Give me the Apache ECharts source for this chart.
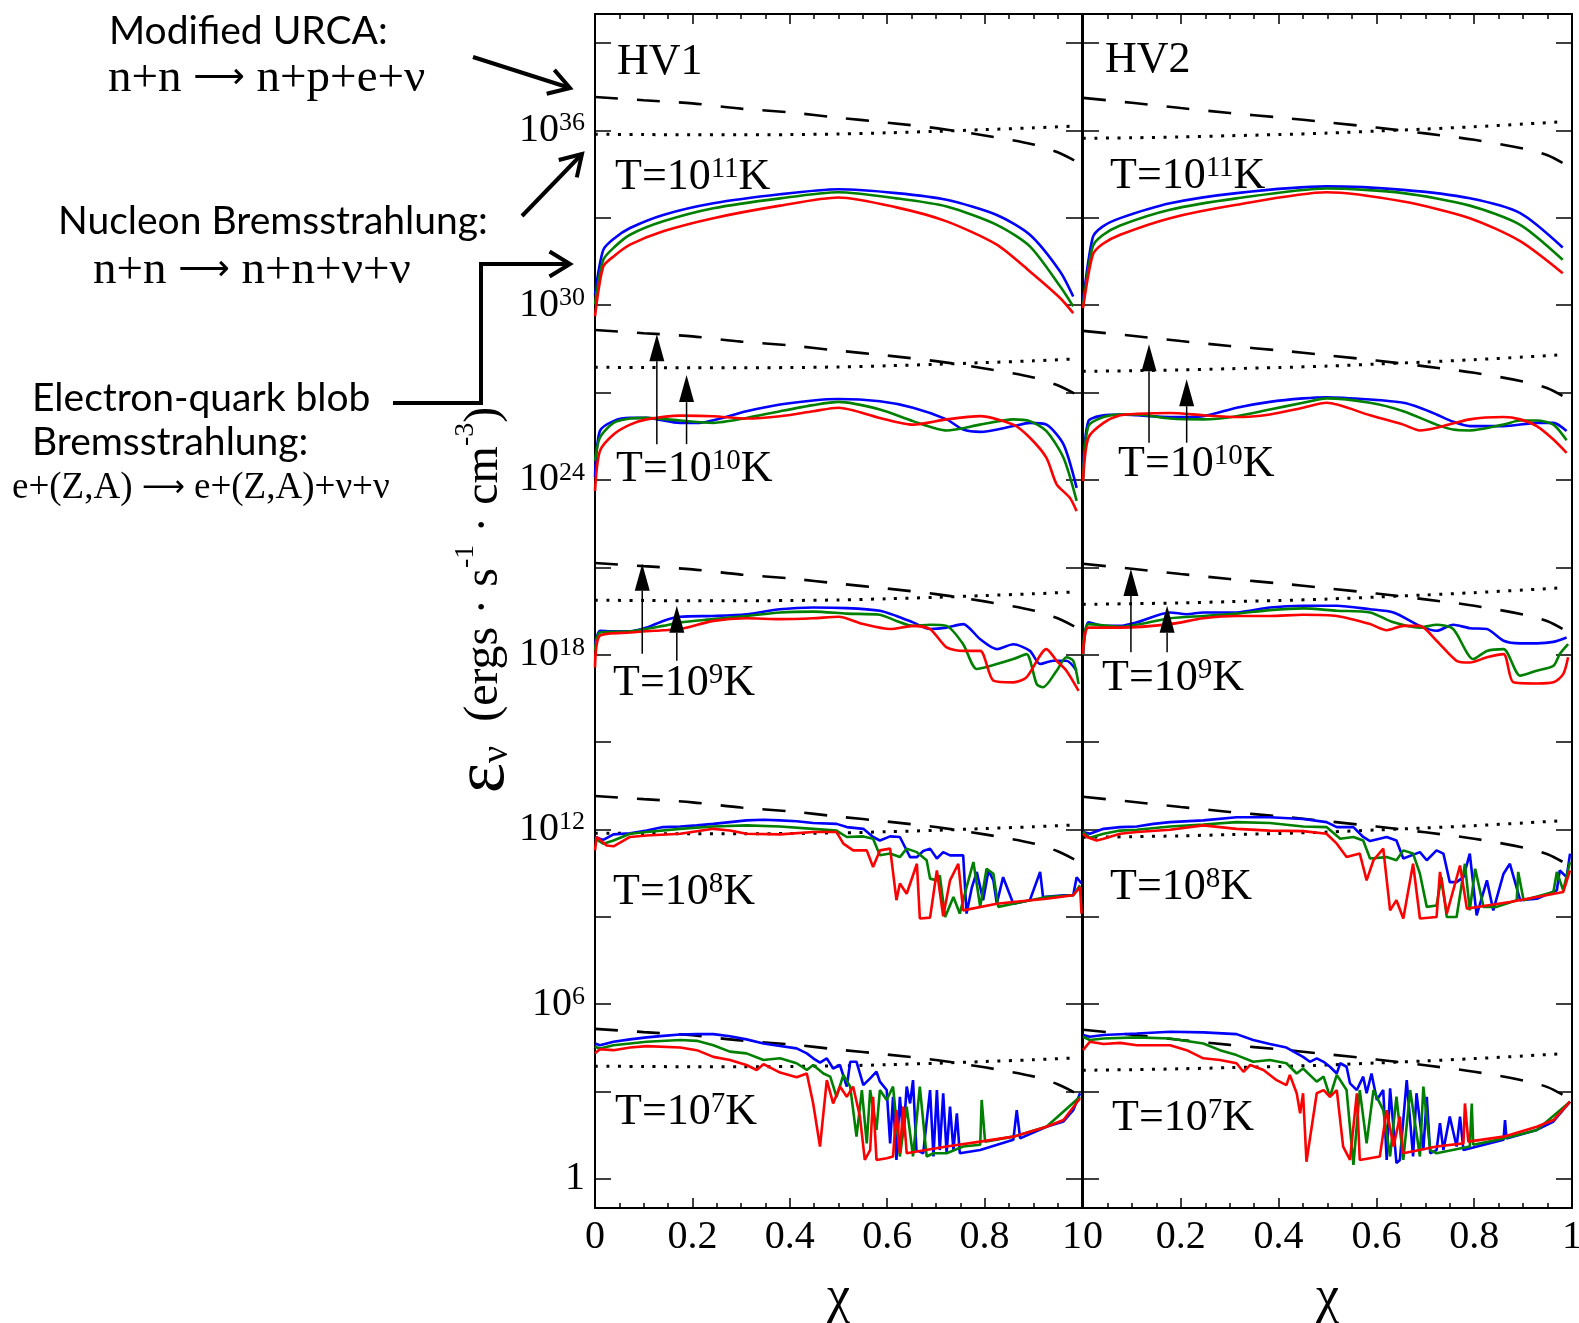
<!DOCTYPE html>
<html><head><meta charset="utf-8">
<script src="https://cdn.jsdelivr.net/npm/echarts@6/dist/echarts.min.js"></script>
<style>html,body{margin:0;padding:0;background:#fff}#c{width:1579px;height:1323px}</style>
</head><body><div id="c"></div><script>
// ---------------- DATA (y values are log10 of emissivity, erg s^-1 cm^-3) ----------------
const tempExps = [11, 10, 9, 8, 7];
const yTickExps = [0, 3, 6, 9, 12, 15, 18, 21, 24, 27, 30, 33, 36, 39];
const yLabelExps = [0, 6, 12, 18, 24, 30, 36];

// Modified URCA (dashed) and nucleon bremsstrahlung (dotted)
const urcaChi = [0, 0.1, 0.2, 0.3, 0.4, 0.5, 0.6, 0.7, 0.8, 0.9, 0.95, 0.99];
const bremChi = [0, 0.1, 0.2, 0.3, 0.4, 0.5, 0.6, 0.7, 0.8, 0.9, 0.98];

const hv1UrcaT11 = [37.15, 37.04, 36.93, 36.75, 36.62, 36.44, 36.27, 36.08, 35.83, 35.52, 35.25, 34.92];
const hv1UrcaT10 = [29.15, 29.04, 28.93, 28.75, 28.62, 28.44, 28.27, 28.08, 27.83, 27.52, 27.25, 26.92];
const hv1UrcaT9  = [21.15, 21.04, 20.93, 20.75, 20.62, 20.44, 20.27, 20.08, 19.83, 19.52, 19.25, 18.92];
const hv1UrcaT8  = [13.15, 13.04, 12.93, 12.75, 12.62, 12.44, 12.27, 12.08, 11.83, 11.52, 11.25, 10.92];
const hv1UrcaT7  = [5.15, 5.04, 4.93, 4.75, 4.62, 4.44, 4.27, 4.08, 3.83, 3.52, 3.25, 2.92];
const hv1BremT11 = [35.87, 35.86, 35.85, 35.85, 35.86, 35.88, 35.92, 35.97, 36.03, 36.09, 36.15];
const hv1BremT10 = [27.87, 27.86, 27.85, 27.85, 27.86, 27.88, 27.92, 27.97, 28.03, 28.09, 28.15];
const hv1BremT9  = [19.87, 19.86, 19.85, 19.85, 19.86, 19.88, 19.92, 19.97, 20.03, 20.09, 20.15];
const hv1BremT8  = [11.87, 11.86, 11.85, 11.85, 11.86, 11.88, 11.92, 11.97, 12.03, 12.09, 12.15];
const hv1BremT7  = [3.87, 3.86, 3.85, 3.85, 3.86, 3.88, 3.92, 3.97, 4.03, 4.09, 4.15];

const hv2UrcaT11 = [37.12, 36.95, 36.77, 36.60, 36.45, 36.28, 36.10, 35.90, 35.68, 35.38, 35.15, 34.80];
const hv2UrcaT10 = [29.12, 28.95, 28.77, 28.60, 28.45, 28.28, 28.10, 27.90, 27.68, 27.38, 27.15, 26.80];
const hv2UrcaT9  = [21.12, 20.95, 20.77, 20.60, 20.45, 20.28, 20.10, 19.90, 19.68, 19.38, 19.15, 18.80];
const hv2UrcaT8  = [13.12, 12.95, 12.77, 12.60, 12.45, 12.28, 12.10, 11.90, 11.68, 11.38, 11.15, 10.80];
const hv2UrcaT7  = [5.12, 4.95, 4.77, 4.60, 4.45, 4.28, 4.10, 3.90, 3.68, 3.38, 3.15, 2.80];
const hv2BremT11 = [35.73, 35.75, 35.78, 35.82, 35.86, 35.91, 35.98, 36.05, 36.13, 36.22, 36.30];
const hv2BremT10 = [27.73, 27.75, 27.78, 27.82, 27.86, 27.91, 27.98, 28.05, 28.13, 28.22, 28.30];
const hv2BremT9  = [19.73, 19.75, 19.78, 19.82, 19.86, 19.91, 19.98, 20.05, 20.13, 20.22, 20.30];
const hv2BremT8  = [11.73, 11.75, 11.78, 11.82, 11.86, 11.91, 11.98, 12.05, 12.13, 12.22, 12.30];
const hv2BremT7  = [3.73, 3.75, 3.78, 3.82, 3.86, 3.91, 3.98, 4.05, 4.13, 4.22, 4.30];

// Electron-quark blob bremsstrahlung: [chi, log10 eps]
const hv1BlueT11 = [[0,30.36],[0.017,31.9],[0.04,32.3],[0.072,32.65],[0.14,33.1],[0.243,33.5],[0.38,33.81],[0.5,33.98],[0.619,33.85],[0.722,33.62],[0.825,33.1],[0.893,32.42],[0.955,31.16],[0.982,30.3]];
const hv1GreenT11 = [[0,30.03],[0.017,31.56],[0.04,32.0],[0.072,32.42],[0.14,32.88],[0.243,33.33],[0.38,33.67],[0.5,33.88],[0.619,33.67],[0.722,33.39],[0.825,32.76],[0.893,32.02],[0.955,30.65],[0.982,29.96]];
const hv1RedT11 = [[0,29.62],[0.017,31.33],[0.04,31.7],[0.072,32.08],[0.14,32.54],[0.243,32.99],[0.38,33.42],[0.5,33.70],[0.619,33.36],[0.722,32.88],[0.825,32.08],[0.893,31.16],[0.955,30.25],[0.982,29.73]];

const hv1BlueT10 = [[0,24.1],[0.010,25.68],[0.038,26.02],[0.072,26.13],[0.106,26.13],[0.175,25.96],[0.21,25.96],[0.311,26.36],[0.380,26.59],[0.448,26.73],[0.5,26.78],[0.585,26.70],[0.653,26.48],[0.722,26.08],[0.756,25.73],[0.791,25.65],[0.859,25.85],[0.893,25.96],[0.927,25.90],[0.962,25.22],[0.989,23.73]];
const hv1GreenT10 = [[0,24.65],[0.010,25.45],[0.038,25.96],[0.072,26.11],[0.106,26.13],[0.175,26.04],[0.243,25.96],[0.311,26.13],[0.380,26.36],[0.448,26.57],[0.5,26.68],[0.585,26.42],[0.653,26.02],[0.722,25.70],[0.791,25.90],[0.859,26.08],[0.893,26.02],[0.927,25.68],[0.962,24.76],[0.989,23.28]];
const hv1RedT10 = [[0,23.62],[0.010,24.99],[0.038,25.56],[0.072,25.90],[0.106,26.08],[0.175,26.21],[0.243,26.19],[0.311,26.11],[0.380,26.19],[0.448,26.36],[0.5,26.48],[0.585,26.13],[0.653,25.90],[0.722,26.08],[0.791,26.19],[0.859,25.90],[0.893,25.45],[0.927,24.76],[0.948,23.85],[0.975,23.39],[0.989,22.93]];

const hv1BlueT9 = [[0,18.36],[0.010,18.82],[0.038,18.80],[0.072,18.80],[0.106,18.93],[0.140,19.16],[0.175,19.30],[0.243,19.33],[0.311,19.39],[0.380,19.56],[0.448,19.62],[0.517,19.60],[0.585,19.51],[0.619,19.33],[0.653,19.11],[0.688,18.88],[0.722,18.93],[0.756,19.05],[0.791,18.53],[0.825,18.19],[0.859,18.36],[0.893,18.13],[0.914,17.68],[0.941,17.79],[0.968,17.79],[0.989,17.45]];
const hv1GreenT9 = [[0,18.13],[0.010,18.76],[0.072,18.80],[0.140,18.99],[0.175,19.11],[0.243,19.22],[0.311,19.33],[0.380,19.45],[0.448,19.48],[0.517,19.41],[0.585,19.37],[0.619,19.16],[0.653,18.99],[0.688,19.03],[0.722,18.99],[0.756,18.36],[0.784,17.51],[0.825,17.68],[0.859,17.85],[0.886,18.02],[0.907,16.99],[0.920,16.88],[0.948,17.45],[0.968,17.91],[0.982,17.79],[0.993,16.99]];
const hv1RedT9 = [[0,17.56],[0.010,18.65],[0.072,18.76],[0.140,18.84],[0.175,18.88],[0.243,19.16],[0.311,19.25],[0.380,19.22],[0.448,19.25],[0.500,19.30],[0.551,19.05],[0.606,18.88],[0.653,18.99],[0.688,18.88],[0.722,18.25],[0.756,18.13],[0.791,18.13],[0.818,17.11],[0.859,17.05],[0.886,17.22],[0.927,18.19],[0.948,17.79],[0.968,17.45],[0.993,16.76]];

const hv1BlueT8 = [[0,11.74],[0.017,11.64],[0.038,11.83],[0.072,11.87],[0.106,11.96],[0.140,12.08],[0.175,12.10],[0.209,12.14],[0.243,12.19],[0.277,12.25],[0.311,12.31],[0.346,12.33],[0.380,12.31],[0.414,12.28],[0.448,12.22],[0.496,12.19],[0.517,12.08],[0.551,12.02],[0.571,11.74],[0.585,11.62],[0.606,11.76],[0.626,11.74],[0.647,11.05],[0.661,11.05],[0.674,11.26],[0.688,11.34],[0.702,11.00],[0.715,11.22],[0.729,11.11],[0.756,11.11],[0.763,9.11],[0.774,10.02],[0.784,10.54],[0.797,9.57],[0.808,10.59],[0.818,10.25],[0.825,9.45],[0.838,10.36],[0.859,9.45],[0.893,9.57],[0.914,10.54],[0.920,9.68],[0.962,9.74],[0.982,9.74],[0.989,10.36],[0.999,10.14]];
const hv1GreenT8 = [[0,11.68],[0.017,11.51],[0.038,11.62],[0.072,11.85],[0.106,11.91],[0.175,12.02],[0.243,12.10],[0.311,12.14],[0.380,12.10],[0.448,12.02],[0.496,11.96],[0.517,11.74],[0.551,11.76],[0.571,11.68],[0.585,11.11],[0.606,11.17],[0.626,11.05],[0.640,11.34],[0.661,11.22],[0.681,10.94],[0.688,10.31],[0.702,10.25],[0.708,10.42],[0.719,8.99],[0.736,9.68],[0.749,9.11],[0.763,10.02],[0.777,10.88],[0.791,9.34],[0.804,10.65],[0.818,10.48],[0.828,9.34],[0.859,9.45],[0.927,9.68],[0.982,9.74],[0.996,10.08]];
const hv1RedT8 = [[0,11.28],[0.0034,11.74],[0.024,11.45],[0.038,11.42],[0.072,11.74],[0.106,11.79],[0.175,11.85],[0.243,12.02],[0.277,11.96],[0.311,11.85],[0.380,11.83],[0.448,11.91],[0.496,11.91],[0.510,11.51],[0.530,11.28],[0.558,11.28],[0.571,10.71],[0.585,11.28],[0.606,11.34],[0.619,9.57],[0.626,10.14],[0.640,9.79],[0.661,10.82],[0.667,8.94],[0.688,8.97],[0.702,10.59],[0.715,9.02],[0.729,10.25],[0.746,10.82],[0.756,9.22],[0.825,9.45],[0.859,9.51],[0.927,9.62],[0.982,9.74],[0.996,10.02],[0.999,9.11]];

const hv1BlueT7 = [[0,4.65],[0.010,4.59],[0.038,4.71],[0.072,4.79],[0.106,4.86],[0.140,4.91],[0.175,4.96],[0.209,4.97],[0.243,4.97],[0.277,4.90],[0.311,4.79],[0.346,4.65],[0.380,4.56],[0.414,4.48],[0.435,4.31],[0.448,4.14],[0.462,3.99],[0.476,4.14],[0.489,3.79],[0.503,3.91],[0.517,3.17],[0.524,4.02],[0.537,4.02],[0.551,3.22],[0.565,3.45],[0.578,3.68],[0.585,3.34],[0.599,3.05],[0.606,1.22],[0.612,2.82],[0.619,0.65],[0.626,2.82],[0.633,1.45],[0.640,3.17],[0.647,2.59],[0.653,3.39],[0.660,0.99],[0.674,0.88],[0.688,3.05],[0.695,0.77],[0.702,3.05],[0.708,0.99],[0.715,2.94],[0.722,0.88],[0.729,2.48],[0.736,0.99],[0.743,2.25],[0.749,0.88],[0.791,0.99],[0.859,1.34],[0.866,2.36],[0.873,1.39],[0.927,1.79],[0.962,1.97],[0.982,2.36],[0.996,2.94]];
const hv1GreenT7 = [[0,4.54],[0.010,4.48],[0.038,4.59],[0.106,4.71],[0.175,4.77],[0.209,4.74],[0.243,4.59],[0.277,4.37],[0.311,4.31],[0.346,4.08],[0.380,4.14],[0.414,3.97],[0.435,3.74],[0.448,3.91],[0.469,3.62],[0.483,3.51],[0.496,2.82],[0.510,3.57],[0.524,3.17],[0.537,1.45],[0.548,3.05],[0.558,1.22],[0.565,3.05],[0.578,1.68],[0.585,3.05],[0.599,2.71],[0.612,3.17],[0.626,0.77],[0.640,2.48],[0.653,0.77],[0.667,3.17],[0.681,0.77],[0.695,0.88],[0.722,0.88],[0.756,1.11],[0.791,1.17],[0.794,2.71],[0.801,1.28],[0.859,1.45],[0.927,1.79],[0.996,2.82]];
const hv1RedT7 = [[0,4.31],[0.010,4.45],[0.038,4.42],[0.072,4.51],[0.106,4.56],[0.175,4.51],[0.209,4.42],[0.243,4.19],[0.277,4.08],[0.311,3.91],[0.332,3.74],[0.346,3.94],[0.380,3.65],[0.414,3.49],[0.435,3.62],[0.448,2.59],[0.462,1.11],[0.476,3.39],[0.489,2.59],[0.503,3.17],[0.517,2.82],[0.530,3.17],[0.544,2.14],[0.554,0.65],[0.565,0.99],[0.571,2.82],[0.578,0.65],[0.599,0.71],[0.612,0.77],[0.619,2.36],[0.626,0.88],[0.633,2.48],[0.640,0.88],[0.722,1.11],[0.791,1.28],[0.859,1.45],[0.927,1.79],[0.962,2.02],[0.996,2.77]];

const hv2BlueT11 = [[0,30.1],[0.02,32.33],[0.04,32.7],[0.076,32.99],[0.178,33.5],[0.314,33.85],[0.498,34.08],[0.655,33.96],[0.791,33.67],[0.894,33.16],[0.981,31.98]];
const hv2GreenT11 = [[0,30.0],[0.02,32.02],[0.04,32.4],[0.076,32.74],[0.178,33.28],[0.314,33.67],[0.498,34.01],[0.655,33.85],[0.791,33.42],[0.894,32.76],[0.981,31.56]];
const hv2RedT11 = [[0,29.9],[0.02,31.73],[0.04,32.1],[0.076,32.42],[0.178,32.99],[0.314,33.45],[0.498,33.88],[0.655,33.56],[0.791,32.99],[0.894,32.2],[0.981,31.1]];

const hv2BlueT10 = [[0,24.08],[0.011,26.02],[0.042,26.22],[0.076,26.25],[0.110,26.22],[0.178,26.16],[0.246,26.19],[0.314,26.48],[0.382,26.68],[0.450,26.80],[0.498,26.84],[0.587,26.76],[0.655,26.65],[0.689,26.48],[0.723,26.25],[0.757,26.00],[0.791,25.85],[0.860,25.85],[0.928,25.96],[0.962,25.96],[0.989,25.68]];
const hv2GreenT10 = [[0,24.0],[0.011,25.85],[0.042,26.16],[0.076,26.25],[0.110,26.25],[0.178,26.11],[0.246,26.08],[0.314,26.19],[0.382,26.42],[0.450,26.65],[0.498,26.80],[0.587,26.65],[0.655,26.36],[0.723,25.90],[0.757,25.73],[0.791,25.70],[0.860,25.90],[0.894,26.04],[0.928,26.04],[0.962,25.90],[0.989,25.36]];
const hv2RedT10 = [[0,23.96],[0.011,25.45],[0.042,25.96],[0.076,26.22],[0.110,26.27],[0.178,26.30],[0.246,26.22],[0.314,26.16],[0.382,26.25],[0.450,26.48],[0.498,26.65],[0.587,26.22],[0.655,25.90],[0.689,25.70],[0.723,25.79],[0.791,26.08],[0.860,26.16],[0.894,26.08],[0.928,25.85],[0.962,25.39],[0.989,24.93]];

const hv2BlueT9 = [[0,18.02],[0.011,19.11],[0.042,18.99],[0.076,18.99],[0.110,19.11],[0.178,19.45],[0.212,19.39],[0.246,19.45],[0.314,19.45],[0.382,19.62],[0.450,19.68],[0.519,19.68],[0.587,19.56],[0.635,19.45],[0.689,18.99],[0.723,18.82],[0.757,19.03],[0.791,18.91],[0.826,18.88],[0.860,18.48],[0.894,18.39],[0.928,18.39],[0.962,18.44],[0.989,18.59]];
const hv2GreenT9 = [[0,18.0],[0.011,19.05],[0.076,18.96],[0.178,19.25],[0.246,19.33],[0.314,19.41],[0.382,19.53],[0.450,19.59],[0.519,19.51],[0.587,19.45],[0.635,19.11],[0.689,18.93],[0.723,19.03],[0.757,18.88],[0.798,17.85],[0.826,18.13],[0.860,18.19],[0.894,17.28],[0.928,17.45],[0.962,17.62],[0.975,18.02],[0.992,18.36]];
const hv2RedT9 = [[0,18.02],[0.011,18.93],[0.076,18.93],[0.178,19.05],[0.246,19.25],[0.314,19.33],[0.382,19.33],[0.450,19.37],[0.519,19.33],[0.587,19.05],[0.621,18.84],[0.655,18.99],[0.689,18.99],[0.723,18.48],[0.764,17.79],[0.791,17.73],[0.826,17.91],[0.860,18.02],[0.880,17.05],[0.928,17.01],[0.962,17.05],[0.982,17.33],[0.992,17.91]];

const hv2BlueT8 = [[0,11.91],[0.014,11.85],[0.042,12.02],[0.076,12.08],[0.110,12.10],[0.144,12.19],[0.178,12.25],[0.246,12.31],[0.314,12.42],[0.382,12.42],[0.450,12.36],[0.498,12.25],[0.519,12.08],[0.553,12.08],[0.573,11.74],[0.587,11.60],[0.621,11.74],[0.641,11.62],[0.655,11.00],[0.689,11.22],[0.703,10.94],[0.723,11.28],[0.737,11.17],[0.750,10.19],[0.764,10.19],[0.778,10.36],[0.791,11.17],[0.805,9.05],[0.826,10.25],[0.839,9.22],[0.860,10.48],[0.873,10.82],[0.894,9.57],[0.928,9.62],[0.969,9.91],[0.975,10.59],[0.989,10.36],[0.996,11.17]];
const hv2GreenT8 = [[0,11.91],[0.014,11.71],[0.042,11.85],[0.076,11.96],[0.110,11.99],[0.178,12.10],[0.246,12.17],[0.314,12.25],[0.382,12.22],[0.450,12.10],[0.498,12.08],[0.526,11.68],[0.553,11.74],[0.573,11.62],[0.587,11.00],[0.621,11.05],[0.641,10.94],[0.655,11.28],[0.675,11.17],[0.689,10.48],[0.703,9.34],[0.723,9.39],[0.733,10.36],[0.744,8.99],[0.764,8.99],[0.781,10.82],[0.791,9.22],[0.802,10.65],[0.819,9.34],[0.846,9.34],[0.887,9.57],[0.890,10.54],[0.901,9.57],[0.962,9.85],[0.969,10.54],[0.982,9.91],[0.996,10.88]];
const hv2RedT8 = [[0,11.85],[0.0075,11.74],[0.028,11.62],[0.042,11.68],[0.076,11.85],[0.110,11.91],[0.178,11.99],[0.246,12.14],[0.314,12.02],[0.382,11.96],[0.450,11.94],[0.498,11.85],[0.519,11.51],[0.539,11.05],[0.566,11.17],[0.580,10.25],[0.594,10.94],[0.614,11.34],[0.628,9.22],[0.641,9.57],[0.655,8.94],[0.675,10.82],[0.689,8.94],[0.723,8.99],[0.730,10.54],[0.744,9.11],[0.771,10.76],[0.785,9.28],[0.826,9.39],[0.873,9.51],[0.928,9.68],[0.982,9.85],[0.996,10.59]];

const hv2BlueT7 = [[0,4.94],[0.014,4.88],[0.042,4.94],[0.110,4.99],[0.178,5.05],[0.246,5.03],[0.314,4.97],[0.348,4.77],[0.382,4.63],[0.416,4.51],[0.450,4.19],[0.464,4.02],[0.478,4.14],[0.492,4.02],[0.505,3.85],[0.519,3.62],[0.526,3.97],[0.539,3.85],[0.546,3.28],[0.560,3.05],[0.573,3.51],[0.580,2.94],[0.590,3.62],[0.601,2.71],[0.614,3.05],[0.621,0.65],[0.628,3.11],[0.641,0.54],[0.648,0.65],[0.662,3.39],[0.675,0.77],[0.682,2.94],[0.696,0.99],[0.703,2.82],[0.710,0.88],[0.723,0.99],[0.730,1.91],[0.737,0.99],[0.750,2.14],[0.764,1.11],[0.771,2.14],[0.778,0.99],[0.860,1.34],[0.863,2.02],[0.866,1.39],[0.928,1.68],[0.962,1.97],[0.996,2.65]];
const hv2GreenT7 = [[0,4.88],[0.014,4.77],[0.042,4.82],[0.110,4.86],[0.178,4.82],[0.246,4.65],[0.280,4.42],[0.314,4.25],[0.348,4.02],[0.382,4.08],[0.416,3.97],[0.437,3.62],[0.450,3.79],[0.478,3.34],[0.492,3.51],[0.505,2.82],[0.519,3.57],[0.539,3.05],[0.553,0.48],[0.566,3.05],[0.580,1.22],[0.594,3.05],[0.614,2.36],[0.628,0.77],[0.641,2.82],[0.655,0.65],[0.669,3.05],[0.689,0.77],[0.696,3.17],[0.710,0.99],[0.723,0.88],[0.791,1.11],[0.795,2.59],[0.798,1.17],[0.860,1.39],[0.928,1.68],[0.996,2.65]];
const hv2RedT7 = [[0,4.42],[0.014,4.71],[0.042,4.63],[0.076,4.67],[0.110,4.59],[0.178,4.59],[0.212,4.42],[0.246,4.14],[0.280,4.08],[0.314,3.97],[0.328,3.68],[0.342,3.91],[0.369,3.74],[0.396,3.39],[0.416,3.22],[0.423,3.57],[0.437,2.94],[0.444,2.25],[0.450,2.94],[0.457,0.59],[0.478,2.94],[0.492,3.05],[0.505,2.82],[0.519,3.05],[0.532,1.11],[0.546,0.65],[0.560,2.94],[0.566,0.65],[0.607,0.77],[0.621,2.36],[0.635,1.11],[0.648,2.14],[0.655,0.88],[0.723,1.11],[0.778,1.22],[0.781,2.59],[0.788,1.28],[0.860,1.45],[0.928,1.79],[0.962,2.02],[0.996,2.65]];

// vertical arrows: [chi, log10 base, log10 tip]
const hv1Arrows = [[0.127, 25.23, 29.0], [0.188, 25.23, 27.6], [0.097, 18.03, 21.12], [0.168, 17.79, 19.68]];
const hv2Arrows = [[0.135, 25.28, 28.66], [0.212, 25.28, 27.46], [0.098, 18.08, 20.94], [0.172, 18.08, 19.68]];

// ---------------- CHART ----------------
const SERIF = '"Liberation Serif","Times New Roman",serif';
const SANS = 'Lato,"Open Sans",sans-serif';
const ARROWFONT = '"DejaVu Sans",sans-serif';
const COLORS = { blue: '#0000ff', green: '#008000', red: '#ff0000' };

const panels = [
  { name: 'HV1',
    urca: [hv1UrcaT11, hv1UrcaT10, hv1UrcaT9, hv1UrcaT8, hv1UrcaT7],
    brem: [hv1BremT11, hv1BremT10, hv1BremT9, hv1BremT8, hv1BremT7],
    blue: [hv1BlueT11, hv1BlueT10, hv1BlueT9, hv1BlueT8, hv1BlueT7],
    green: [hv1GreenT11, hv1GreenT10, hv1GreenT9, hv1GreenT8, hv1GreenT7],
    red: [hv1RedT11, hv1RedT10, hv1RedT9, hv1RedT8, hv1RedT7],
    arrows: hv1Arrows },
  { name: 'HV2',
    urca: [hv2UrcaT11, hv2UrcaT10, hv2UrcaT9, hv2UrcaT8, hv2UrcaT7],
    brem: [hv2BremT11, hv2BremT10, hv2BremT9, hv2BremT8, hv2BremT7],
    blue: [hv2BlueT11, hv2BlueT10, hv2BlueT9, hv2BlueT8, hv2BlueT7],
    green: [hv2GreenT11, hv2GreenT10, hv2GreenT9, hv2GreenT8, hv2GreenT7],
    red: [hv2RedT11, hv2RedT10, hv2RedT9, hv2RedT8, hv2RedT7],
    arrows: hv2Arrows }
];

const zip = (xs, ys) => xs.map((x, i) => [x, ys[i]]);

function arrowRenderer(params, api) {
  const p0 = api.coord([api.value(0), api.value(1)]);
  const p1 = api.coord([api.value(0), api.value(2)]);
  const hl = 27, hw = 15;
  return { type: 'group', children: [
    { type: 'line', shape: { x1: p0[0], y1: p0[1], x2: p1[0], y2: p1[1] + hl }, style: { stroke: '#000', lineWidth: 1.5 } },
    { type: 'polygon', shape: { points: [[p1[0], p1[1]], [p1[0] - hw / 2, p1[1] + hl], [p1[0] + hw / 2, p1[1] + hl]] }, style: { fill: '#000' } }
  ]};
}

const series = [];
panels.forEach((p, pi) => {
  const ax = { xAxisIndex: pi * 2, yAxisIndex: pi * 2 };
  tempExps.forEach((t, ti) => {
    series.push({ type: 'line', ...ax, data: zip(urcaChi, p.urca[ti]), symbol: 'none', silent: true,
      smooth: 0.3,
      lineStyle: { color: '#000', width: 2.6, type: [23, 19] } });
    series.push({ type: 'line', ...ax, data: zip(bremChi, p.brem[ti]), symbol: 'none', silent: true,
      smooth: 0.3,
      lineStyle: { color: '#000', width: 3, type: [3, 8.5] } });
    const sm = ti <= 2 ? 0.25 : false;
    ['blue', 'green', 'red'].forEach(c => series.push({ type: 'line', ...ax, data: p[c][ti], symbol: 'none', silent: true,
      smooth: sm,
      lineStyle: { color: COLORS[c], width: 2.6 } }));
  });
  series.push({ type: 'custom', ...ax, data: p.arrows, renderItem: arrowRenderer, z: 5, silent: true });
});

function xAxisDef(gi, pos, showLabel, alignKey) {
  const lbl = { show: showLabel, color: '#000', fontSize: 40, fontFamily: SERIF, margin: 9 };
  if (alignKey) lbl[alignKey[0]] = alignKey[1];
  return {
    type: 'value', gridIndex: gi, position: pos, min: 0, max: 1, interval: 0.2,
    axisLine: { show: true, onZero: false, lineStyle: { color: '#000', width: 2 } },
    axisTick: { show: true, inside: true, length: 10, lineStyle: { color: '#000', width: 1.5 } },
    minorTick: { show: true, splitNumber: 4, length: 5, lineStyle: { color: '#000', width: 1.5 } },
    splitLine: { show: false }, minorSplitLine: { show: false },
    axisLabel: lbl,
    name: showLabel ? 'χ' : '', nameLocation: 'middle', nameGap: 64,
    nameTextStyle: { color: '#000', fontSize: 52, fontFamily: SERIF }
  };
}
function yAxisDef(gi, pos, showLabel) {
  return {
    type: 'value', gridIndex: gi, position: pos, min: -1, max: 40,
    axisLine: { show: true, onZero: false, lineStyle: { color: '#000', width: 2 } },
    axisTick: { show: true, inside: true, length: 16, customValues: yTickExps, lineStyle: { color: '#000', width: 1.5 } },
    splitLine: { show: false },
    axisLabel: { show: showLabel, customValues: yLabelExps, margin: 10,
      formatter: v => v === 0 ? '{b|1}' : '{b|10}{s|' + v + '}',
      rich: { b: { fontSize: 40, fontFamily: SERIF, color: '#000', lineHeight: 40 },
              s: { fontSize: 26, fontFamily: SERIF, color: '#000', verticalAlign: 'top', lineHeight: 12 } } }
  };
}

const xAxes = [
  xAxisDef(0, 'bottom', true, ['alignMaxLabel', 'right']),
  xAxisDef(0, 'top', false),
  xAxisDef(1, 'bottom', true, ['alignMinLabel', 'left']),
  xAxisDef(1, 'top', false)
];
const yAxes = [yAxisDef(0, 'left', true), yAxisDef(0, 'right', false), yAxisDef(1, 'left', false), yAxisDef(1, 'right', false)];

// ---------------- annotations ----------------
function txt(x, y, text, font, size) {
  return { type: 'text', x: x, y: y, silent: true,
    style: { text: text, fontFamily: font, fontSize: size, fill: '#000', align: 'left', verticalAlign: 'middle', textAlign: 'left', textVerticalAlign: 'middle' } };
}
function formula(x, y, left, right, size, arrowSize) {
  return { type: 'text', x: x, y: y, silent: true,
    style: { text: '{a|' + left + ' }{r|\u27f6}{a| ' + right + '}', fill: '#000', align: 'left', verticalAlign: 'middle', textAlign: 'left', textVerticalAlign: 'middle',
      rich: { a: { fontSize: size, fontFamily: SERIF, fill: '#000', lineHeight: size },
              r: { fontSize: arrowSize, fontFamily: ARROWFONT, fill: '#000', lineHeight: size } } } };
}
function tLabel(x, baseline, exp) {
  return { type: 'text', x: x, y: baseline - 15, silent: true,
    style: { text: '{m|T=10}{s|' + exp + '}{m|K}', fill: '#000', align: 'left', verticalAlign: 'middle', textAlign: 'left', textVerticalAlign: 'middle',
      rich: { m: { fontSize: 44, fontFamily: SERIF, lineHeight: 44, fill: '#000' },
              s: { fontSize: 29, fontFamily: SERIF, lineHeight: 12, verticalAlign: 'top', fill: '#000' } } } };
}
function head(tip, from, len, ang) {
  const dx = tip[0] - from[0], dy = tip[1] - from[1], L = Math.hypot(dx, dy), ux = dx / L, uy = dy / L;
  const p = a => [tip[0] - len * (ux * Math.cos(a) - uy * Math.sin(a)), tip[1] - len * (ux * Math.sin(a) + uy * Math.cos(a))];
  return { type: 'polyline', silent: true, shape: { points: [p(ang), tip, p(-ang)] }, style: { stroke: '#000', lineWidth: 4, fill: null, lineJoin: 'miter' } };
}
function pline(points) {
  return { type: 'polyline', silent: true, shape: { points: points }, style: { stroke: '#000', lineWidth: 4, fill: null } };
}

const tPos1 = [[615, 192], [616, 484], [613, 698], [613, 907], [615, 1127]];
const tPos2 = [[1110, 191], [1118, 479], [1102, 693], [1110, 902], [1112, 1133]];

const graphic = [
  txt(617, 62, 'HV1', SERIF, 44),
  txt(1105, 60, 'HV2', SERIF, 44),
  ...tempExps.map((t, i) => tLabel(tPos1[i][0], tPos1[i][1], t)),
  ...tempExps.map((t, i) => tLabel(tPos2[i][0], tPos2[i][1], t)),
  txt(109, 31, 'Modified URCA:', SANS, 39),
  formula(108, 79, 'n+n', 'n+p+e+\u03bd', 47, 36),
  txt(58, 221, 'Nucleon Bremsstrahlung:', SANS, 39),
  formula(93, 271, 'n+n', 'n+n+\u03bd+\u03bd', 47, 36),
  txt(32, 398, 'Electron-quark blob', SANS, 39),
  txt(32, 442, 'Bremsstrahlung:', SANS, 39),
  formula(12, 488, 'e+(Z,A)', 'e+(Z,A)+\u03bd+\u03bd', 37, 30),
  pline([[473, 57], [570, 88]]), head([570, 88], [473, 57], 24, 0.55),
  pline([[522, 216], [582, 154]]), head([582, 154], [522, 216], 24, 0.55),
  pline([[393, 403], [481, 403], [481, 264], [570, 264]]), head([570, 264], [481, 264], 24, 0.55),
  { type: 'text', x: 484, y: 600, rotation: Math.PI / 2, silent: true,
    style: { text: '{e|\u03b5}{n|\u03bd}{t|  (ergs \u00b7 s}{s|-1}{t| \u00b7 cm}{s|-3}{t|)}', fill: '#000',
      align: 'center', verticalAlign: 'middle', textAlign: 'center', textVerticalAlign: 'middle',
      rich: { e: { fontSize: 72, fontFamily: SERIF, lineHeight: 64, fill: '#000' },
              n: { fontSize: 38, fontFamily: SERIF, lineHeight: 30, verticalAlign: 'bottom', fill: '#000' },
              t: { fontSize: 48, fontFamily: SERIF, lineHeight: 48, fill: '#000' },
              s: { fontSize: 28, fontFamily: SERIF, lineHeight: 16, verticalAlign: 'top', fill: '#000' } } } }
];

const chart = echarts.init(document.getElementById('c'), null, { renderer: 'canvas' });
chart.setOption({
  backgroundColor: '#fff',
  animation: false,
  grid: [
    { left: 595, top: 14, width: 487, height: 1194, containLabel: false, outerBoundsMode: 'none' },
    { left: 1083, top: 14, width: 489, height: 1194, containLabel: false, outerBoundsMode: 'none' }
  ],
  xAxis: xAxes,
  yAxis: yAxes,
  series: series,
  graphic: graphic
});
</script></body></html>
